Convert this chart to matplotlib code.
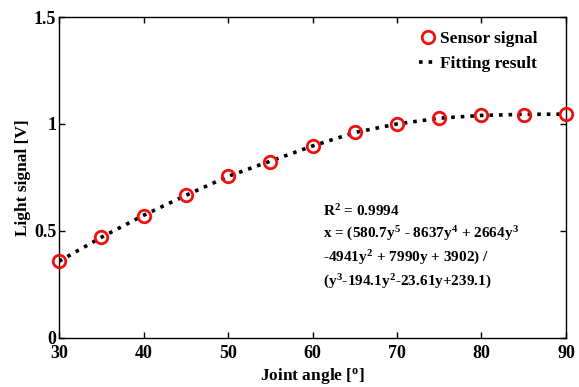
import numpy as np
import matplotlib.pyplot as plt
from matplotlib.ticker import FuncFormatter

plt.rcParams['font.family'] = 'Liberation Serif'
plt.rcParams['font.weight'] = 'bold'
plt.rcParams['mathtext.fontset'] = 'custom'
plt.rcParams['mathtext.rm'] = 'Liberation Serif:bold'
plt.rcParams['mathtext.it'] = 'Liberation Serif:bold'
plt.rcParams['mathtext.bf'] = 'Liberation Serif:bold'

RED = "#F01010"

angle = [30, 35, 40, 45, 50, 55, 60, 65, 70, 75, 80, 85, 90]
signal = [0.361, 0.473, 0.571, 0.668, 0.757, 0.824, 0.899, 0.961, 1.001, 1.028, 1.040, 1.044, 1.045]
# Fitted curve values at the same angles
fit = [0.358, 0.470, 0.573, 0.666, 0.755, 0.826, 0.897, 0.960, 1.000, 1.027, 1.040, 1.045, 1.046]

xticks = [30, 40, 50, 60, 70, 80, 90]
yticks = [0, 0.5, 1, 1.5]

fig = plt.figure(figsize=(5.79, 3.87), dpi=100)
ax = fig.add_axes([0.102, 0.127, 0.8755, 0.829])

ax.plot(angle, fit, color='black', ls=':', lw=2.6, label='Fitting result', zorder=2)
ax.plot(angle, signal, ls='none', marker='o', ms=9, mfc='none', mec=RED, mew=2.0,
        label='Sensor signal', zorder=3, clip_on=False)

ax.set_xlim(30, 90)
ax.set_ylim(0, 1.5)
ax.set_xticks(xticks)
ax.set_yticks(yticks)
ax.yaxis.set_major_formatter(FuncFormatter(lambda v, p: '%g' % v))
ax.tick_params(direction='in', length=4, width=1, top=True, right=True, labelsize=13)
ax.tick_params(axis='x', pad=5)
ax.tick_params(axis='y', pad=2)
for s in ax.spines.values():
    s.set_linewidth(1.0)

ax.set_xlabel('Joint angle [$^{\\mathrm{o}}$]', fontsize=12.5, fontweight='bold', labelpad=3)
ax.set_ylabel('Light signal [V]', fontsize=12.5, fontweight='bold', labelpad=2)

h, l = ax.get_legend_handles_labels()
ax.legend(h[::-1], l[::-1], loc='upper right', bbox_to_anchor=(0.975, 1.005), frameon=False,
          fontsize=12.5, handlelength=1.0, handletextpad=0.2, labelspacing=0.5)

txt = ("R$^2$ = 0.9994\n"
       "x = (580.7$y^5$ - 8637$y^4$ + 2664$y^3$\n"
       "-4941$y^2$ + 7990y + 3902) /\n"
       "($y^3$-194.1$y^2$-23.61y+239.1)")
ax.text(0.52, 0.42, txt, transform=ax.transAxes, fontsize=11, fontweight='bold',
        va='top', ha='left', linespacing=1.45)

fig.savefig('out.png', dpi=100)
